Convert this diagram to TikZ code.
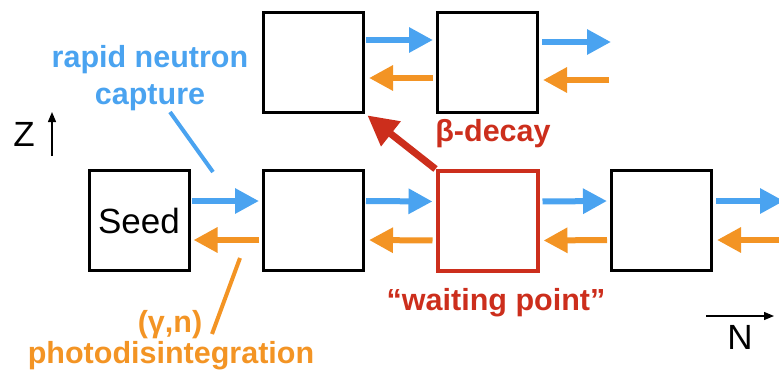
\documentclass[tikz,border=0pt]{standalone}
\usepackage{fontspec}
\setmainfont{Liberation Sans}
\usetikzlibrary{arrows.meta}
\definecolor{capblue}{RGB}{74,163,240}
\definecolor{photorange}{RGB}{243,148,36}
\definecolor{decayred}{RGB}{204,46,28}
\tikzset{
  nuc/.style={draw=black,line width=3pt,minimum width=100pt,minimum height=100pt,inner sep=0pt,fill=white},
  waitbox/.style={nuc,draw=decayred,line width=4pt},
  capar/.style={draw=capblue,line width=6pt,-{Triangle[width=24pt,length=24pt]}},
  photar/.style={draw=photorange,line width=6pt,-{Triangle[width=24pt,length=24pt]}},
  decayar/.style={draw=decayred,line width=7pt,-{Triangle[width=30pt,length=30pt]}},
  biglabel/.style={font=\bfseries\fontsize{30.5}{34}\selectfont,align=center,inner sep=0pt},
  axlabel/.style={font=\fontsize{35}{38}\selectfont,inner sep=0pt},
  axar/.style={draw=black,line width=1.3pt,-{Triangle[width=8pt,length=10pt]}}
}
\begin{document}
\begin{tikzpicture}[x=1pt,y=-1pt]
\useasboundingbox (0,0) rectangle (779,375);
% boxes
\node[nuc] (T1) at (313.5,62) {};
\node[nuc] (T2) at (487.5,62) {};
\node[nuc,font=\fontsize{35}{38}\selectfont] (S) at (139,220.5) {Seed};
\node[nuc] (B1) at (313.5,220.5) {};
\node[waitbox] (R) at (487.5,221) {};
\node[nuc] (B3) at (661.5,220.5) {};
% free ends
\coordinate (T2rb) at (611,42);
\coordinate (T2ro) at (609,80);
\coordinate (B3rb) at (784,201);
\coordinate (B3ro) at (784,240);
% top row arrows
\draw[capar,shorten <=1pt,shorten >=3pt] ([yshift=22pt]T1.east) -- ([yshift=22pt]T2.west);
\draw[photar,shorten <=3pt,shorten >=4pt] ([yshift=-16pt]T2.west) -- ([yshift=-16pt]T1.east);
\draw[capar,shorten <=3pt] ([yshift=20pt]T2.east) -- (T2rb);
\draw[photar,shorten >=4pt] (T2ro) -- ([yshift=-18pt]T2.east);
% bottom row arrows
\draw[capar,shorten <=1pt,shorten >=3pt] ([yshift=19.5pt]S.east) -- ([yshift=19.5pt]B1.west);
\draw[photar,shorten <=3pt,shorten >=3pt] ([yshift=-19.5pt]B1.west) -- ([yshift=-19.5pt]S.east);
\draw[capar,shorten <=1pt,shorten >=3pt] ([yshift=19.5pt]B1.east) -- ([yshift=19.5pt]R.west);
\draw[photar,shorten <=3pt,shorten >=4pt] ([yshift=-19.5pt]R.west) -- ([yshift=-19.5pt]B1.east);
\draw[capar,shorten <=3pt,shorten >=3pt] ([yshift=19.5pt]R.east) -- ([yshift=19.5pt]B3.west);
\draw[photar,shorten <=3pt,shorten >=4pt] ([yshift=-19.5pt]B3.west) -- ([yshift=-19.5pt]R.east);
\draw[capar,shorten <=3pt] ([yshift=19.5pt]B3.east) -- (B3rb);
\draw[photar,shorten >=4pt] (B3ro) -- ([yshift=-19.5pt]B3.east);
% beta decay
\draw[decayar,shorten >=3pt] (R.north west) -- (T1.south east);
% labels
\node[biglabel,text=capblue] (rnc) at (150,78) {rapid neutron\\[3pt]capture};
\coordinate (rncend) at (213,172);
\draw[capblue,line width=4pt] (170,112) -- (rncend);
\node[biglabel,text=decayred] (bd) at (493,134) {β-decay};
\node[biglabel,text=decayred] (wp) at (496,303) {“waiting point”};
\node[biglabel,text=photorange] (gn) at (170,325) {(γ,n)};
\node[biglabel,text=photorange] (pd) at (171,356) {photodisintegration};
\coordinate (gnend) at (240,258);
\draw[photorange,line width=4pt] (212,334) -- (gnend);
% axes
\node[axlabel] (Z) at (24,134) {Z};
\coordinate (Zb) at (52,156);
\coordinate (Zt) at (52,112);
\draw[axar] (Zb) -- (Zt);
\node[axlabel] (N) at (740,337) {N};
\coordinate (Nl) at (706,316);
\coordinate (Nr) at (774,316);
\draw[axar] (Nl) -- (Nr);
\end{tikzpicture}
\end{document}
